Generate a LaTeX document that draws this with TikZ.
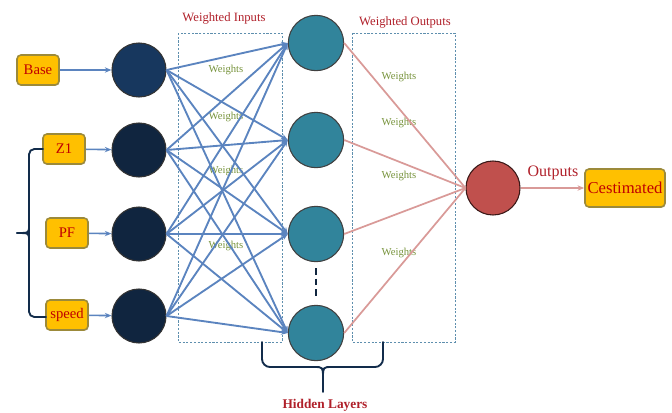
\documentclass[tikz,border=0pt]{standalone}
\usepackage{fontspec}
\setmainfont{Liberation Serif}
\usetikzlibrary{arrows.meta,shadows}
\definecolor{navyA}{HTML}{17375E}
\definecolor{navyB}{HTML}{10253F}
\definecolor{tealC}{HTML}{31849B}
\definecolor{redC}{HTML}{C0504D}
\definecolor{boxfill}{HTML}{FFC000}
\definecolor{boxline}{HTML}{9C8A3A}
\definecolor{txtred}{HTML}{C00000}
\definecolor{wred}{HTML}{B0202A}
\definecolor{wgreen}{HTML}{77933C}
\definecolor{linkblue}{HTML}{5B84BF}
\definecolor{linkpink}{HTML}{D99A98}
\definecolor{dashcol}{HTML}{5E8FAE}
\tikzset{
  inbox/.style={draw=boxline, line width=1.2pt, fill=boxfill, rounded corners=3pt,
     text=txtred, font=\fontsize{11}{12}\selectfont, minimum width=31.5pt, minimum height=22.5pt, inner sep=1pt,
     drop shadow={shadow xshift=0.6pt, shadow yshift=-0.6pt, opacity=0.35}},
  incirc/.style={circle, draw=black!80, line width=0.8pt, fill=navyB, minimum size=40.5pt, inner sep=0pt},
  hidcirc/.style={circle, draw=black!75, line width=0.8pt, fill=tealC, minimum size=41.5pt, inner sep=0pt},
  outcirc/.style={circle, draw=black!70!redC, line width=0.8pt, fill=redC, minimum size=40.5pt, inner sep=0pt},
  bluelink/.style={draw=linkblue, line width=1.4pt, -{Stealth[length=5pt,width=4pt]}},
  pinklink/.style={draw=linkpink, line width=1.3pt},
  wlabel/.style={text=wgreen, font=\fontsize{8}{9}\selectfont, inner sep=0pt},
  titlelabel/.style={text=wred, font=\fontsize{9.5}{10}\selectfont, inner sep=0pt},
  dashbox/.style={draw=dashcol, line width=0.6pt, dash pattern=on 1.6pt off 1.2pt},
  bracestyle/.style={draw=navyA!80!black, line width=1.4pt, line cap=round}
}
\begin{document}
\begin{tikzpicture}[x=0.75pt,y=-0.75pt]
\useasboundingbox (0,0) rectangle (672,412);
% dashed boxes
\draw[dashbox] (178,33) rectangle (282,342);
\draw[dashbox] (352,33) rectangle (455,342);
% titles
\node[titlelabel] (wi) at (224,18) {Weighted Inputs};
\node[titlelabel] (wo) at (405,22) {Weighted Outputs};
% input boxes
\node[inbox] (base) at (38,70) {Base};
\node[inbox] (z1) at (64,149) {Z1};
\node[inbox] (pf) at (67,233) {PF};
\node[inbox] (speed) at (67,315) {speed};
% weights labels (under the links)
\node[wlabel] (w1) at (226,70) {Weights};
\node[wlabel] (w2) at (226,117) {Weights};
\node[wlabel] (w3) at (226,171) {Weights};
\node[wlabel] (w4) at (226,246) {Weights};
\node[wlabel] (w5) at (399,77) {Weights};
\node[wlabel] (w6) at (399,123) {Weights};
\node[wlabel] (w7) at (399,176) {Weights};
\node[wlabel] (w8) at (399,253) {Weights};
% input circles
\node[incirc, fill=navyA] (i1) at (139,70) {};
\node[incirc] (i2) at (139,150) {};
\node[incirc] (i3) at (139,234) {};
\node[incirc] (i4) at (139,316) {};
% hidden circles
\node[hidcirc] (h1) at (316,43) {};
\node[hidcirc] (h2) at (316,140) {};
\node[hidcirc] (h3) at (316,234) {};
\node[hidcirc] (h4) at (316,333) {};
\coordinate (dtop) at (316,268);
\coordinate (dbot) at (316,298);
\draw[draw=navyB, line width=1.6pt, dash pattern=on 5pt off 3pt] (dtop) -- (dbot);
% output
\node[outcirc] (o) at (493,188) {};
\node[inbox, font=\fontsize{12.5}{13}\selectfont, minimum width=60pt, minimum height=28.5pt] (cest) at (625,188) {Cestimated};
% box to circle arrows
\foreach \b/\c in {base/i1, z1/i2, pf/i3, speed/i4}
  \draw[draw=linkblue, line width=1.2pt, -{Stealth[length=5pt,width=4pt]}] (\b) -- (\c);
% input-hidden links
\foreach \i in {1,...,4}
  \foreach \h in {1,...,4}
    \draw[bluelink] (i\i.east) -- (h\h.west);
% hidden-output links
\foreach \h in {1,...,4}
  \draw[pinklink] (h\h.east) -- (o.west);
\draw[draw=linkpink, line width=1.3pt, -{Stealth[length=5pt,width=4pt]}] (o) -- (cest);
\node[text=wred, font=\fontsize{12}{13}\selectfont, inner sep=0pt] (outl) at (553,173) {Outputs};
% left brace
\draw[bracestyle, rounded corners=4pt] (43,149) -- (29,149) -- (29,317) -- (46,317);
\draw[bracestyle] (29,226) .. controls (29,233) .. (17,233);
\draw[bracestyle] (29,240) .. controls (29,233) .. (17,233);
% bottom brace
\draw[bracestyle, rounded corners=6pt] (262,342) -- (262,367) -- (314,367);
\draw[bracestyle, rounded corners=6pt] (383,342) -- (383,367) -- (332,367);
\draw[bracestyle] (314,367) .. controls (323,367) .. (323,378) -- (323,392);
\draw[bracestyle] (332,367) .. controls (323,367) .. (323,378);
\node[text=wred, font=\bfseries\fontsize{10}{11}\selectfont, inner sep=0pt] (hl) at (325,405) {Hidden Layers};
\end{tikzpicture}
\end{document}
